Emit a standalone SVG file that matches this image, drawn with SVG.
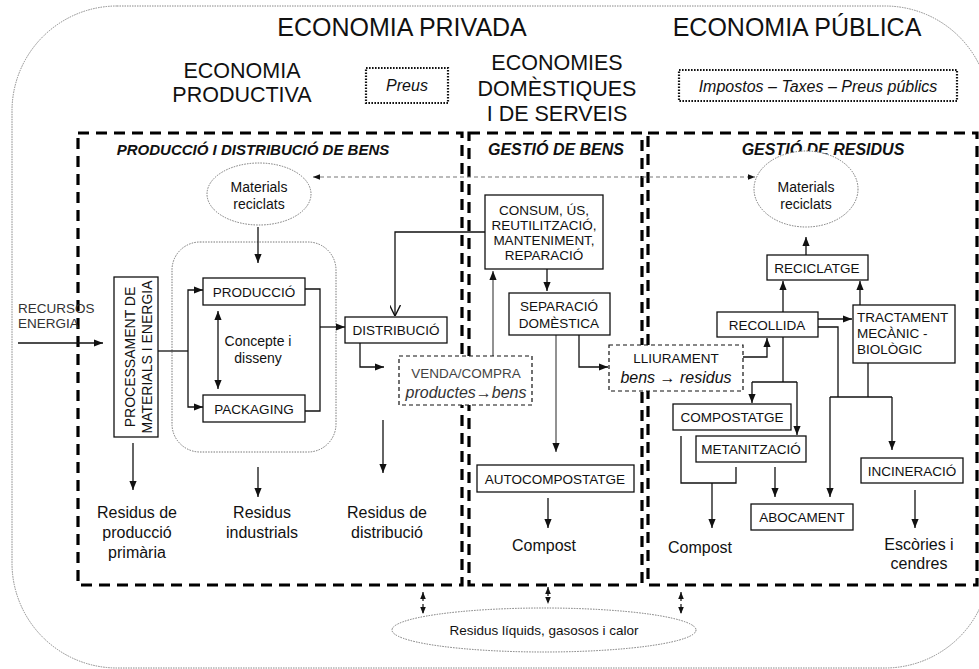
<svg xmlns="http://www.w3.org/2000/svg" width="979" height="669" viewBox="0 0 979 669">
<style>
text{font-family:"Liberation Sans",Arial,sans-serif;fill:#111}
.t1{font-size:25px}
.t2{font-size:21.5px}
.hd{font-size:15px;font-weight:bold;font-style:italic}
.bx{font-size:13.5px}
.lb{font-size:16px}
.it{font-size:16px;font-style:italic}
.el{font-size:14px}
.box{fill:#fff;stroke:#111;stroke-width:1.3}
.dbox{fill:#fff;stroke:#111;stroke-width:1.2;stroke-dasharray:4 3}
.dot{fill:none;stroke:#111;stroke-width:2.2;stroke-dasharray:1.6 1.4}
.zone{fill:none;stroke:#000;stroke-width:3.2;stroke-dasharray:11 7}
.soft{fill:#fff;stroke:#777;stroke-width:1;stroke-dasharray:1.5 1.2}
.c{fill:none;stroke:#111;stroke-width:1.3}
.g{fill:none;stroke:#777;stroke-width:1.6}
.dl{fill:none;stroke:#777;stroke-width:1.2;stroke-dasharray:4 3}
.db{fill:none;stroke:#111;stroke-width:1.2;stroke-dasharray:3 3}
</style>
<defs>
<marker id="ah" viewBox="0 0 10 10" refX="10" refY="5" markerWidth="9" markerHeight="9" markerUnits="userSpaceOnUse" orient="auto-start-reverse"><path d="M0,1 L10,5 L0,9 z" fill="#111"/></marker>
<marker id="ag" viewBox="0 0 10 10" refX="10" refY="5" markerWidth="9" markerHeight="9" markerUnits="userSpaceOnUse" orient="auto-start-reverse"><path d="M0,1 L10,5 L0,9 z" fill="#111"/></marker>
<marker id="av" viewBox="0 0 10 10" refX="10" refY="5" markerWidth="11" markerHeight="11" markerUnits="userSpaceOnUse" orient="auto"><path d="M0,0 L10,5 L0,10" fill="none" stroke="#111" stroke-width="1.3"/></marker>
<marker id="as" viewBox="0 0 10 10" refX="10" refY="5" markerWidth="7" markerHeight="7" markerUnits="userSpaceOnUse" orient="auto-start-reverse"><path d="M0,1 L10,5 L0,9 z" fill="#111"/></marker>
</defs>
<rect width="979" height="669" fill="#fff"/>

<!-- outer frame -->
<rect x="12" y="6" width="978" height="662" rx="105" ry="105" fill="none" stroke="#888" stroke-width="1" stroke-dasharray="1.5 1"/>

<g id="titles">
<text class="t1" x="402" y="36" text-anchor="middle">ECONOMIA PRIVADA</text>
<text class="t1" x="797" y="36" text-anchor="middle">ECONOMIA PÚBLICA</text>
<text class="t2" x="242" y="78" text-anchor="middle">ECONOMIA</text>
<text class="t2" x="242" y="102" text-anchor="middle">PRODUCTIVA</text>
<text class="t2" x="557" y="70" text-anchor="middle">ECONOMIES</text>
<text class="t2" x="557" y="96" text-anchor="middle">DOMÈSTIQUES</text>
<text class="t2" x="557" y="121" text-anchor="middle">I DE SERVEIS</text>
</g>
<g id="preus">
<rect class="dot" x="366" y="68" width="82" height="35"/>
<text class="it" x="407" y="91" text-anchor="middle">Preus</text>
</g>
<g id="impostos">
<rect class="dot" x="679" y="70" width="278" height="31"/>
<text class="it" x="818" y="92" text-anchor="middle">Impostos – Taxes – Preus públics</text>
</g>

<g id="zone-produccio">
<rect class="zone" x="78" y="133" width="384" height="452"/>
<text class="hd" x="253" y="155" text-anchor="middle">PRODUCCIÓ I DISTRIBUCIÓ DE BENS</text>
</g>
<g id="zone-bens">
<rect class="zone" x="469" y="133" width="173" height="452"/>
<text class="hd" x="556" y="155" text-anchor="middle" style="font-size:16px">GESTIÓ DE BENS</text>
</g>
<g id="zone-residus">
<rect class="zone" x="648" y="133" width="329" height="452"/>
<text class="hd" x="823" y="155" text-anchor="middle" style="font-size:16px">GESTIÓ DE RESIDUS</text>
</g>

<g id="concept-group">
<rect class="soft" x="172" y="242" width="164" height="210" rx="28" ry="28"/>
</g>

<g id="connectors">
<path class="c" d="M18,343 H103" marker-end="url(#ah)"/>
<path class="c" d="M158,351 H188"/>
<path class="c" d="M203,290 H188 V407 H203" marker-start="url(#ah)" marker-end="url(#ah)"/>
<path class="c" d="M305,289 H320 V411 H305"/>
<path class="c" d="M320,327 H345" marker-end="url(#ah)"/>
<path class="c" d="M258,227 V263" marker-end="url(#ah)"/>
<path class="c" d="M218,311 V389" marker-start="url(#ah)" marker-end="url(#ah)"/>
<path class="c" d="M485,232 H395 V316" marker-end="url(#av)"/>
<path class="c" d="M360,343 V367 H384" marker-end="url(#ah)"/>
<path class="g" d="M493,356 V271" marker-end="url(#ag)"/>
<path class="c" d="M547,269 V291" marker-end="url(#ah)"/>
<path class="g" d="M556,335 V452" marker-end="url(#ag)"/>
<path class="c" d="M579,335 V367 H608" marker-end="url(#ah)"/>
<path class="c" d="M743,357 H767 V338" marker-end="url(#ah)"/>
<path class="c" d="M783,312 V281" marker-end="url(#ah)"/>
<path class="c" d="M806,255 V237" marker-end="url(#ah)"/>
<path class="c" d="M860,305 V281" marker-end="url(#ah)"/>
<path class="c" d="M818,319 H852" marker-end="url(#ah)"/>
<path class="c" d="M818,327 H838 V397"/>
<path class="c" d="M868,363 V397"/>
<path class="c" d="M830,397 H892"/>
<path class="c" d="M830,397 V497" marker-end="url(#ah)"/>
<path class="c" d="M892,397 V450" marker-end="url(#ah)"/>
<path class="c" d="M783,337 V382"/>
<path class="c" d="M752,382 H797"/>
<path class="c" d="M752,382 V403" marker-end="url(#ah)"/>
<path class="c" d="M797,382 V435" marker-end="url(#ah)"/>
<path class="c" d="M681,436 V483 H736 V467"/>
<path class="c" d="M712,483 V528" marker-end="url(#ah)"/>
<path class="c" d="M775,467 V497" marker-end="url(#ah)"/>
<path class="c" d="M915,490 V528" marker-end="url(#ah)"/>
<path class="c" d="M133,443 V490" marker-end="url(#ah)"/>
<path class="c" d="M258,467 V497" marker-end="url(#ah)"/>
<path class="c" d="M383,420 V473" marker-end="url(#ah)"/>
<path class="c" d="M548,498 V528" marker-end="url(#ah)"/>
<path class="dl" d="M313,177 H755" marker-start="url(#as)" marker-end="url(#as)"/>
<path class="db" d="M423,592 V614" marker-start="url(#as)" marker-end="url(#as)"/>
<path class="db" d="M548,587 V604" marker-start="url(#as)" marker-end="url(#as)"/>
<path class="db" d="M681,592 V614" marker-start="url(#as)" marker-end="url(#as)"/>
</g>

<g id="recursos">
<text class="bx" x="18" y="313" style="fill:#333">RECURSOS</text>
<text class="bx" x="18" y="328" style="fill:#333">ENERGIA</text>
</g>
<g id="materials-left">
<ellipse class="soft" cx="259" cy="194" rx="52" ry="31"/>
<text class="el" x="259" y="192" text-anchor="middle">Materials</text>
<text class="el" x="259" y="209" text-anchor="middle">reciclats</text>
</g>
<g id="materials-right">
<ellipse class="soft" cx="806" cy="189" rx="52" ry="38"/>
<text class="el" x="806" y="192" text-anchor="middle">Materials</text>
<text class="el" x="806" y="209" text-anchor="middle">reciclats</text>
</g>
<g id="processament">
<rect class="box" x="114" y="277" width="44" height="160"/>
<text class="bx" transform="translate(135,357) rotate(-90)" text-anchor="middle" style="font-size:14px">PROCESSAMENT DE</text>
<text class="bx" transform="translate(152,357) rotate(-90)" text-anchor="middle" style="font-size:14px">MATERIALS I ENERGIA</text>
</g>
<g id="produccio">
<rect class="box" x="203" y="278" width="102" height="27"/>
<text class="bx" x="254" y="297" text-anchor="middle">PRODUCCIÓ</text>
</g>
<g id="packaging">
<rect class="box" x="203" y="395" width="102" height="27"/>
<text class="bx" x="254" y="414" text-anchor="middle">PACKAGING</text>
</g>
<g id="concepte">
<text class="el" x="258" y="346" text-anchor="middle">Concepte i</text>
<text class="el" x="258" y="363" text-anchor="middle">disseny</text>
</g>
<g id="distribucio">
<rect class="box" x="345" y="317" width="102" height="26"/>
<text class="bx" x="396" y="335" text-anchor="middle">DISTRIBUCIÓ</text>
</g>
<g id="venda">
<rect class="dbox" x="399" y="356" width="133" height="49"/>
<text class="bx" x="466" y="378" text-anchor="middle" style="fill:#444">VENDA/COMPRA</text>
<text class="it" x="466" y="398" text-anchor="middle" style="fill:#333">productes→bens</text>
</g>
<g id="consum">
<rect class="box" x="485" y="195" width="118" height="74"/>
<text class="bx" x="544" y="215" text-anchor="middle">CONSUM, ÚS,</text>
<text class="bx" x="544" y="230" text-anchor="middle">REUTILITZACIÓ,</text>
<text class="bx" x="544" y="245" text-anchor="middle">MANTENIMENT,</text>
<text class="bx" x="544" y="260" text-anchor="middle">REPARACIÓ</text>
</g>
<g id="separacio">
<rect class="box" x="509" y="293" width="101" height="42"/>
<text class="bx" x="559" y="311" text-anchor="middle">SEPARACIÓ</text>
<text class="bx" x="559" y="328" text-anchor="middle">DOMÈSTICA</text>
</g>
<g id="lliurament">
<rect class="dbox" x="609" y="345" width="134" height="46"/>
<text class="bx" x="676" y="363" text-anchor="middle">LLIURAMENT</text>
<text class="it" x="676" y="383" text-anchor="middle">bens → residus</text>
</g>
<g id="autocompostatge">
<rect class="box" x="477" y="465" width="157" height="27"/>
<text class="bx" x="555" y="484" text-anchor="middle">AUTOCOMPOSTATGE</text>
</g>
<g id="recollida">
<rect class="box" x="717" y="312" width="101" height="25"/>
<text class="bx" x="767" y="330" text-anchor="middle">RECOLLIDA</text>
</g>
<g id="reciclatge">
<rect class="box" x="767" y="255" width="101" height="25"/>
<text class="bx" x="817" y="273" text-anchor="middle">RECICLATGE</text>
</g>
<g id="tractament">
<rect class="box" x="853" y="305" width="102" height="58"/>
<text class="bx" x="857" y="322">TRACTAMENT</text>
<text class="bx" x="857" y="338">MECÀNIC -</text>
<text class="bx" x="857" y="354">BIOLÒGIC</text>
</g>
<g id="compostatge">
<rect class="box" x="673" y="404" width="118" height="26"/>
<text class="bx" x="732" y="422" text-anchor="middle">COMPOSTATGE</text>
</g>
<g id="metanitzacio">
<rect class="box" x="696" y="436" width="110" height="26"/>
<text class="bx" x="751" y="454" text-anchor="middle">METANITZACIÓ</text>
</g>
<g id="abocament">
<rect class="box" x="751" y="504" width="102" height="26"/>
<text class="bx" x="802" y="522" text-anchor="middle">ABOCAMENT</text>
</g>
<g id="incineracio">
<rect class="box" x="861" y="458" width="102" height="25"/>
<text class="bx" x="912" y="476" text-anchor="middle">INCINERACIÓ</text>
</g>

<g id="outputs">
<text class="lb" x="137" y="518" text-anchor="middle">Residus de</text>
<text class="lb" x="137" y="538" text-anchor="middle">producció</text>
<text class="lb" x="137" y="558" text-anchor="middle">primària</text>
<text class="lb" x="262" y="518" text-anchor="middle">Residus</text>
<text class="lb" x="262" y="538" text-anchor="middle">industrials</text>
<text class="lb" x="387" y="518" text-anchor="middle">Residus de</text>
<text class="lb" x="387" y="538" text-anchor="middle">distribució</text>
<text class="lb" x="544" y="551" text-anchor="middle">Compost</text>
<text class="lb" x="700" y="553" text-anchor="middle">Compost</text>
<text class="lb" x="919" y="550" text-anchor="middle">Escòries i</text>
<text class="lb" x="919" y="569" text-anchor="middle">cendres</text>
</g>
<g id="residus-liquids">
<ellipse class="soft" cx="544" cy="630" rx="152" ry="22"/>
<text class="bx" x="544" y="635" text-anchor="middle">Residus líquids, gasosos i calor</text>
</g>
</svg>
